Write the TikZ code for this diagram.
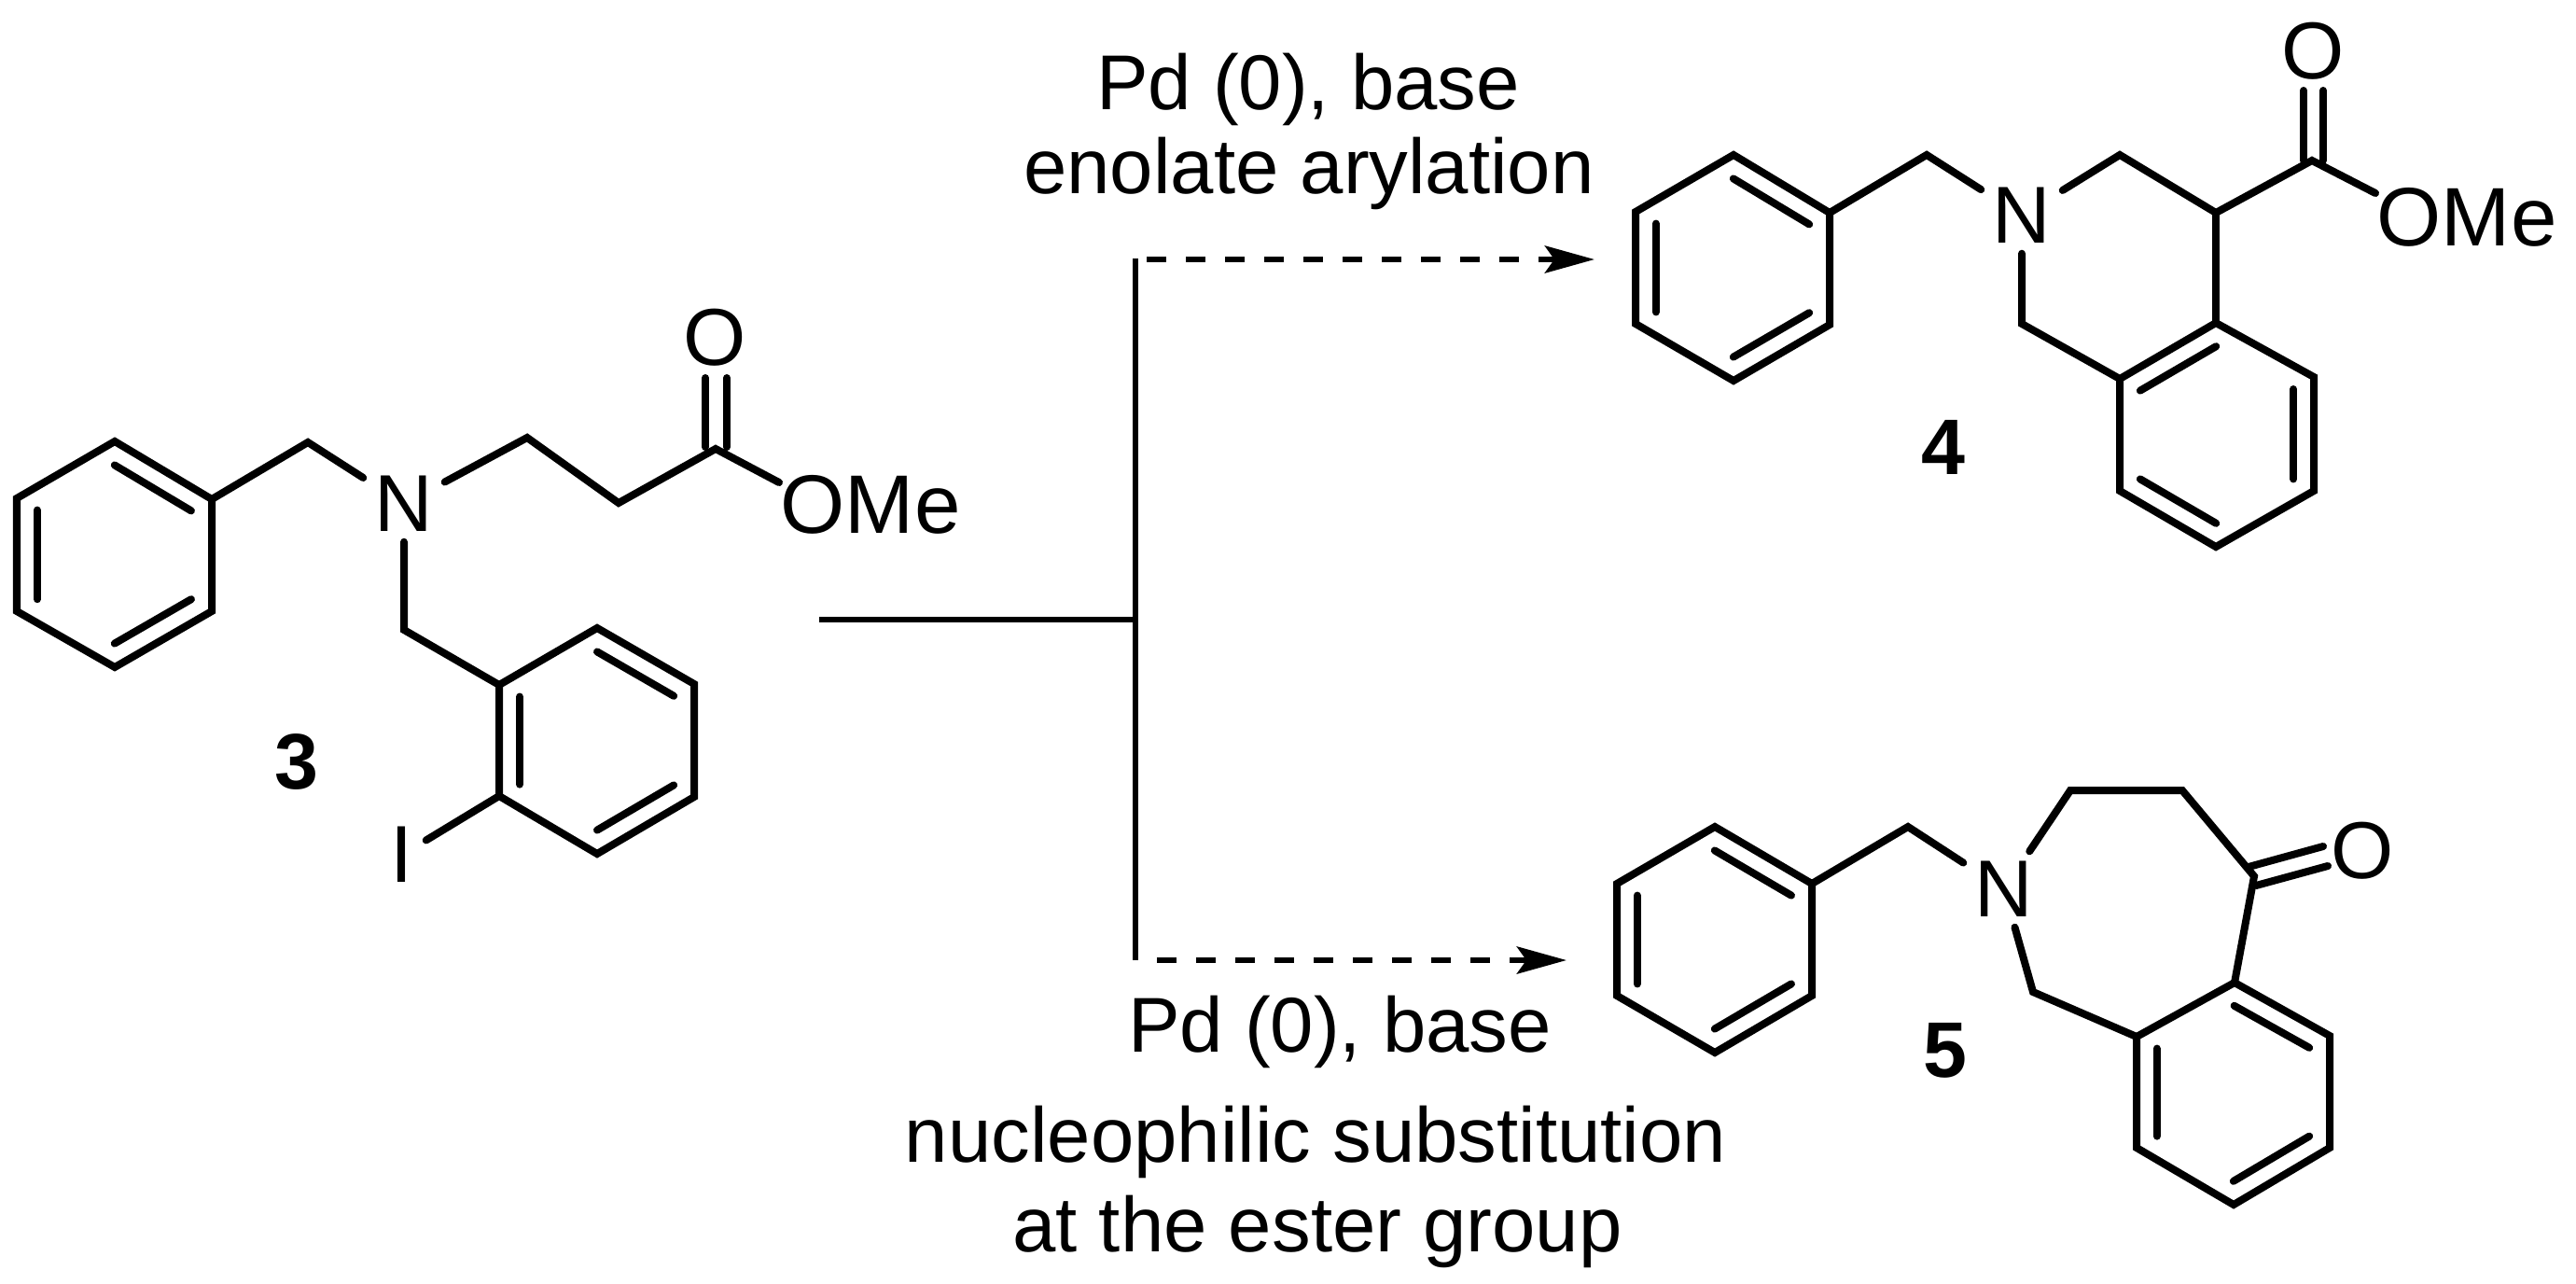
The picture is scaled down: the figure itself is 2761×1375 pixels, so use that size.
\documentclass[tikz,border=0pt]{standalone}
\usepackage{fontspec}
\setmainfont{Liberation Sans}
\usetikzlibrary{calc,arrows.meta}
\newcommand{\innerbond}[3]{\draw[bond] ($(#1)!.21!(#3)$) -- ($(#2)!.21!(#3)$);}

\begin{document}
\begin{tikzpicture}[x=0.01cm, y=-0.01cm]
\tikzset{bond/.style={line width=0.08cm, line cap=round, line join=miter}}
\tikzset{atom/.style={inner sep=0pt, minimum width=0.86cm, minimum height=0.8cm, font=\fontsize{24.6}{28}\selectfont}}
\tikzset{group/.style={inner sep=0pt, anchor=base west, font=\fontsize{25.3}{28}\selectfont}}
\tikzset{txt/.style={inner sep=0pt, anchor=base, font=\fontsize{23.7}{28}\selectfont}}
\tikzset{num/.style={inner sep=0pt, anchor=base, font=\fontsize{24}{28}\selectfont\bfseries}}
\tikzset{line/.style={line width=0.06cm}}
\tikzset{dash line/.style={line width=0.065cm, dash pattern=on 0.21cm off 0.21cm, -{Stealth[length=0.53cm, width=0.29cm, inset=0.1cm]}}}
\useasboundingbox (0,0) rectangle (2761,1375);
% substrate
\coordinate (A1) at (123,473);
\coordinate (A2) at (227,535);
\coordinate (A3) at (227,655);
\coordinate (A4) at (123,715);
\coordinate (A5) at (18,655);
\coordinate (A6) at (18,534);
\coordinate (Ac) at (122,594);
\coordinate (B1) at (640,673);
\coordinate (B2) at (744,733);
\coordinate (B3) at (744,854);
\coordinate (B4) at (640,915);
\coordinate (B5) at (535,853);
\coordinate (B6) at (535,734);
\coordinate (Bc) at (640,794);
\coordinate (C1) at (330,474);
\coordinate (C2) at (565,469);
\coordinate (C3) at (663,539);
\coordinate (C4) at (767,481);
\coordinate (C5) at (433,675);
\coordinate (C4a) at (756,479);
\coordinate (C4b) at (779,479);
\coordinate (O1a) at (756,405);
\coordinate (O1b) at (779,405);
\coordinate (E1) at (835,517);
\node[atom] (N1) at (433,540) {N};
\node[atom] (O1) at (766,362) {O};
\node[atom, minimum width=0.5cm] (I1) at (431,916) {I};
\node[group] (OMe1) at (836,571) {OMe};
\node[num] (n3) at (318,845) {3};
\draw[bond] (A1) -- (A2) -- (A3) -- (A4) -- (A5) -- (A6) -- cycle;
\draw[bond] (B1) -- (B2) -- (B3) -- (B4) -- (B5) -- (B6) -- cycle;
\innerbond{A1}{A2}{Ac}
\innerbond{A3}{A4}{Ac}
\innerbond{A5}{A6}{Ac}
\innerbond{B1}{B2}{Bc}
\innerbond{B3}{B4}{Bc}
\innerbond{B5}{B6}{Bc}
\draw[bond] (A2) -- (C1) -- (N1);
\draw[bond] (N1) -- (C2) -- (C3) -- (C4) -- (E1);
\draw[bond] (N1) -- (C5) -- (B6);
\draw[bond] (B5) -- (I1);
\draw[bond] (C4a) -- (O1a);
\draw[bond] (C4b) -- (O1b);
% arrows
\coordinate (S) at (878,664);
\coordinate (J) at (1217,664);
\coordinate (T) at (1217,277);
\coordinate (D) at (1217,1029);
\coordinate (T1) at (1229,278);
\coordinate (T2) at (1709,278);
\coordinate (D1) at (1240,1029);
\coordinate (D2) at (1679,1029);
\draw[line] (S) -- (J);
\draw[line] (T) -- (D);
\draw[dash line] (T1) -- (T2);
\draw[dash line] (D1) -- (D2);
\node[txt] (up1) at (1402,117) {Pd (0), base};
\node[txt] (up2) at (1403,207) {enolate arylation};
\node[txt] (lo1) at (1436,1127) {Pd (0), base};
\node[txt] (lo2) at (1410,1245) {nucleophilic substitution};
\node[txt] (lo3) at (1412,1341) {at the ester group};
% product with the six ring
\coordinate (F1) at (1858,166);
\coordinate (F2) at (1961,228);
\coordinate (F3) at (1961,348);
\coordinate (F4) at (1858,408);
\coordinate (F5) at (1753,347);
\coordinate (F6) at (1753,227);
\coordinate (Fc) at (1857,287);
\coordinate (G1) at (2375,346);
\coordinate (G2) at (2480,404);
\coordinate (G3) at (2480,526);
\coordinate (G4) at (2375,586);
\coordinate (G5) at (2272,526);
\coordinate (G6) at (2272,406);
\coordinate (Gc) at (2376,466);
\coordinate (H1) at (2065,166);
\coordinate (H2) at (2272,166);
\coordinate (H3) at (2375,228);
\coordinate (H4) at (2478,172);
\coordinate (H5) at (2167,347);
\coordinate (H4a) at (2469,172);
\coordinate (H4b) at (2490,172);
\coordinate (O2a) at (2469,97);
\coordinate (O2b) at (2490,97);
\coordinate (E2) at (2546,207);
\node[atom] (N2) at (2167,231) {N};
\node[atom] (O2) at (2479,55) {O};
\node[group] (OMe2) at (2547,263) {OMe};
\node[num] (n4) at (2083,508) {4};
\draw[bond] (F1) -- (F2) -- (F3) -- (F4) -- (F5) -- (F6) -- cycle;
\draw[bond] (G1) -- (G2) -- (G3) -- (G4) -- (G5) -- (G6) -- cycle;
\innerbond{F1}{F2}{Fc}
\innerbond{F3}{F4}{Fc}
\innerbond{F5}{F6}{Fc}
\innerbond{G6}{G1}{Gc}
\innerbond{G2}{G3}{Gc}
\innerbond{G4}{G5}{Gc}
\draw[bond] (F2) -- (H1) -- (N2);
\draw[bond] (N2) -- (H2) -- (H3) -- (H4) -- (E2);
\draw[bond] (H3) -- (G1);
\draw[bond] (N2) -- (H5) -- (G6);
\draw[bond] (H4a) -- (O2a);
\draw[bond] (H4b) -- (O2b);
% product with the seven ring
\coordinate (P1) at (1838,886);
\coordinate (P2) at (1942,947);
\coordinate (P3) at (1942,1067);
\coordinate (P4) at (1838,1128);
\coordinate (P5) at (1733,1067);
\coordinate (P6) at (1733,947);
\coordinate (Pc) at (1837,1007);
\coordinate (Q1) at (2395,1053);
\coordinate (Q2) at (2497,1110);
\coordinate (Q3) at (2497,1230);
\coordinate (Q4) at (2394,1291);
\coordinate (Q5) at (2290,1230);
\coordinate (Q6) at (2290,1111);
\coordinate (Qc) at (2393,1171);
\coordinate (R1) at (2045,886);
\coordinate (R2) at (2219,847);
\coordinate (R3) at (2339,847);
\coordinate (R4) at (2416,939);
\coordinate (R5) at (2179,1063);
\coordinate (R4a) at (2410,929);
\coordinate (R4b) at (2418,949);
\coordinate (O3a) at (2490,907);
\coordinate (O3b) at (2495,928);
\node[atom] (N3) at (2148,953) {N};
\node[atom] (O3) at (2532,912) {O};
\node[num] (n5) at (2085,1154) {5};
\draw[bond] (P1) -- (P2) -- (P3) -- (P4) -- (P5) -- (P6) -- cycle;
\draw[bond] (Q1) -- (Q2) -- (Q3) -- (Q4) -- (Q5) -- (Q6) -- cycle;
\innerbond{P1}{P2}{Pc}
\innerbond{P3}{P4}{Pc}
\innerbond{P5}{P6}{Pc}
\innerbond{Q1}{Q2}{Qc}
\innerbond{Q3}{Q4}{Qc}
\innerbond{Q5}{Q6}{Qc}
\draw[bond] (P2) -- (R1) -- (N3);
\draw[bond] (N3) -- (R2) -- (R3) -- (R4) -- (Q1);
\draw[bond] (N3) -- (R5) -- (Q6);
\draw[bond] (R4a) -- (O3a);
\draw[bond] (R4b) -- (O3b);
\end{tikzpicture}
\end{document}
